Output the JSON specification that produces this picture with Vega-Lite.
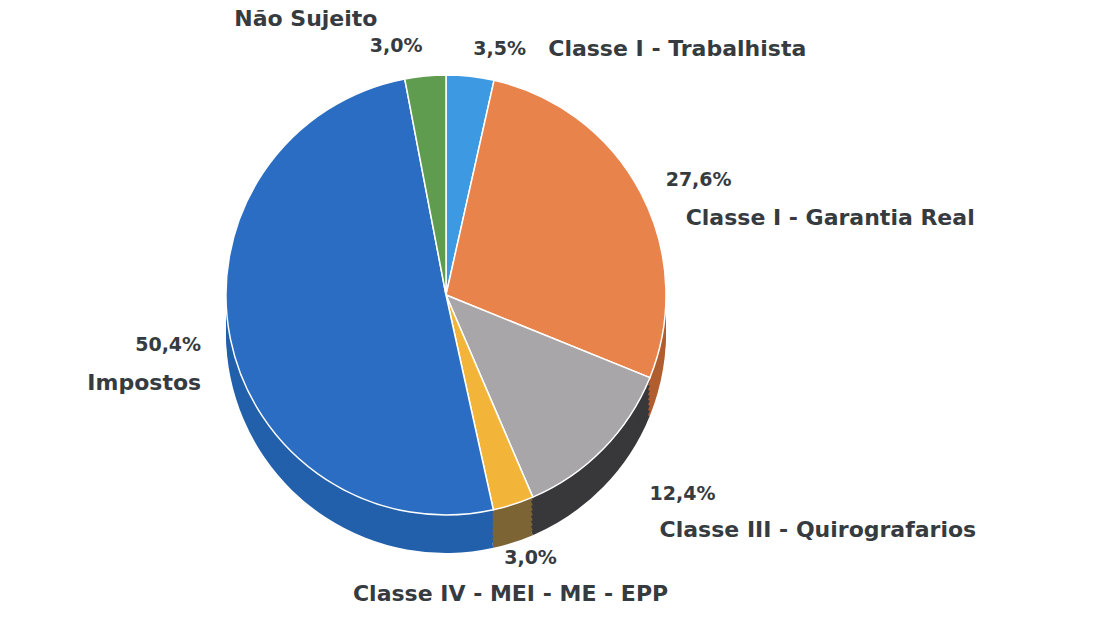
{
  "$schema": "https://vega.github.io/schema/vega-lite/v6.json",
  "autosize": "none",
  "width": 892,
  "height": 590,
  "padding": {"left": 0, "top": 0, "right": 211, "bottom": 41},
  "background": "white",
  "config": {"view": {"stroke": null}, "text": {"font": "DejaVu Sans", "fontWeight": "bold", "color": "#363b40"}},
  "data": {"values": [
    {"k": 1, "cat": "Classe I - Trabalhista", "v": 3.5, "pct": "3,5%"},
    {"k": 2, "cat": "Classe I - Garantia Real", "v": 27.6, "pct": "27,6%"},
    {"k": 3, "cat": "Classe III - Quirografarios", "v": 12.4, "pct": "12,4%"},
    {"k": 4, "cat": "Classe IV - MEI - ME - EPP", "v": 3.0, "pct": "3,0%"},
    {"k": 5, "cat": "Impostos", "v": 50.4, "pct": "50,4%"},
    {"k": 6, "cat": "Não Sujeito", "v": 3.0, "pct": "3,0%"}
  ]},
  "resolve": {"scale": {"color": "independent"}},
  "encoding": {
    "theta": {"field": "v", "type": "quantitative", "stack": true},
    "order": {"field": "k", "type": "quantitative"},
    "detail": {"field": "cat", "type": "nominal"}
  },
  "layer": [
    {"mark": {"type": "arc", "outerRadius": 220, "yOffset": 38}, "encoding": {"color": {"field": "cat", "type": "nominal", "legend": null, "scale": {"domain": ["Classe I - Trabalhista", "Classe I - Garantia Real", "Classe III - Quirografarios", "Classe IV - MEI - ME - EPP", "Impostos", "Não Sujeito"], "range": ["#2b78b8", "#b05e30", "#38383b", "#7d6434", "#2360ab", "#46763a"]}}}},
    {"mark": {"type": "arc", "outerRadius": 220, "yOffset": 33}, "encoding": {"color": {"field": "cat", "type": "nominal", "legend": null, "scale": {"domain": ["Classe I - Trabalhista", "Classe I - Garantia Real", "Classe III - Quirografarios", "Classe IV - MEI - ME - EPP", "Impostos", "Não Sujeito"], "range": ["#2b78b8", "#b05e30", "#38383b", "#7d6434", "#2360ab", "#46763a"]}}}},
    {"mark": {"type": "arc", "outerRadius": 220, "yOffset": 28}, "encoding": {"color": {"field": "cat", "type": "nominal", "legend": null, "scale": {"domain": ["Classe I - Trabalhista", "Classe I - Garantia Real", "Classe III - Quirografarios", "Classe IV - MEI - ME - EPP", "Impostos", "Não Sujeito"], "range": ["#2b78b8", "#b05e30", "#38383b", "#7d6434", "#2360ab", "#46763a"]}}}},
    {"mark": {"type": "arc", "outerRadius": 220, "yOffset": 23}, "encoding": {"color": {"field": "cat", "type": "nominal", "legend": null, "scale": {"domain": ["Classe I - Trabalhista", "Classe I - Garantia Real", "Classe III - Quirografarios", "Classe IV - MEI - ME - EPP", "Impostos", "Não Sujeito"], "range": ["#2b78b8", "#b05e30", "#38383b", "#7d6434", "#2360ab", "#46763a"]}}}},
    {"mark": {"type": "arc", "outerRadius": 220, "yOffset": 18}, "encoding": {"color": {"field": "cat", "type": "nominal", "legend": null, "scale": {"domain": ["Classe I - Trabalhista", "Classe I - Garantia Real", "Classe III - Quirografarios", "Classe IV - MEI - ME - EPP", "Impostos", "Não Sujeito"], "range": ["#2b78b8", "#b05e30", "#38383b", "#7d6434", "#2360ab", "#46763a"]}}}},
    {"mark": {"type": "arc", "outerRadius": 220, "yOffset": 13}, "encoding": {"color": {"field": "cat", "type": "nominal", "legend": null, "scale": {"domain": ["Classe I - Trabalhista", "Classe I - Garantia Real", "Classe III - Quirografarios", "Classe IV - MEI - ME - EPP", "Impostos", "Não Sujeito"], "range": ["#2b78b8", "#b05e30", "#38383b", "#7d6434", "#2360ab", "#46763a"]}}}},
    {"mark": {"type": "arc", "outerRadius": 220, "yOffset": 8}, "encoding": {"color": {"field": "cat", "type": "nominal", "legend": null, "scale": {"domain": ["Classe I - Trabalhista", "Classe I - Garantia Real", "Classe III - Quirografarios", "Classe IV - MEI - ME - EPP", "Impostos", "Não Sujeito"], "range": ["#2b78b8", "#b05e30", "#38383b", "#7d6434", "#2360ab", "#46763a"]}}}},
    {"mark": {"type": "arc", "outerRadius": 220, "yOffset": 3}, "encoding": {"color": {"field": "cat", "type": "nominal", "legend": null, "scale": {"domain": ["Classe I - Trabalhista", "Classe I - Garantia Real", "Classe III - Quirografarios", "Classe IV - MEI - ME - EPP", "Impostos", "Não Sujeito"], "range": ["#2b78b8", "#b05e30", "#38383b", "#7d6434", "#2360ab", "#46763a"]}}}},
    {"mark": {"type": "arc", "outerRadius": 220, "stroke": "#ffffff", "strokeWidth": 1.5}, "encoding": {"color": {"field": "cat", "type": "nominal", "legend": null, "scale": {"domain": ["Classe I - Trabalhista", "Classe I - Garantia Real", "Classe III - Quirografarios", "Classe IV - MEI - ME - EPP", "Impostos", "Não Sujeito"], "range": ["#3d9ae2", "#e8834c", "#a9a6a9", "#f2b53a", "#2a6dc2", "#5f9c4f"]}}}},
    {"transform": [{"calculate": "indexof(['Classe I - Trabalhista','Classe I - Garantia Real'], datum.cat) >= 0 ? datum.pct : ''", "as": "t"}],
     "mark": {"type": "text", "radius": 248, "align": "left", "baseline": "middle", "fontSize": 19},
     "encoding": {"text": {"field": "t", "type": "nominal"}}},
    {"transform": [{"calculate": "datum.cat == 'Classe I - Trabalhista' ? datum.cat : ''", "as": "t"}],
     "mark": {"type": "text", "radius": 248, "align": "left", "baseline": "middle", "fontSize": 22, "dx": 75},
     "encoding": {"text": {"field": "t", "type": "nominal"}}},
    {"transform": [{"calculate": "datum.cat == 'Classe I - Garantia Real' ? datum.cat : ''", "as": "t"}],
     "mark": {"type": "text", "radius": 248, "align": "left", "baseline": "middle", "fontSize": 22, "dy": 38, "dx": 20},
     "encoding": {"text": {"field": "t", "type": "nominal"}}},
    {"transform": [{"calculate": "datum.cat == 'Classe III - Quirografarios' ? datum.pct : ''", "as": "t"}],
     "mark": {"type": "text", "radius": 285, "align": "left", "baseline": "middle", "fontSize": 19},
     "encoding": {"text": {"field": "t", "type": "nominal"}}},
    {"transform": [{"calculate": "datum.cat == 'Classe III - Quirografarios' ? datum.cat : ''", "as": "t"}],
     "mark": {"type": "text", "radius": 285, "align": "left", "baseline": "middle", "fontSize": 22, "dy": 36, "dx": 10},
     "encoding": {"text": {"field": "t", "type": "nominal"}}},
    {"transform": [{"calculate": "datum.cat == 'Classe IV - MEI - ME - EPP' ? datum.pct : ''", "as": "t"}],
     "mark": {"type": "text", "radius": 276, "align": "center", "baseline": "middle", "fontSize": 19},
     "encoding": {"text": {"field": "t", "type": "nominal"}}},
    {"transform": [{"calculate": "datum.cat == 'Classe IV - MEI - ME - EPP' ? datum.cat : ''", "as": "t"}],
     "mark": {"type": "text", "radius": 276, "align": "center", "baseline": "middle", "fontSize": 22, "dy": 36, "dx": -20},
     "encoding": {"text": {"field": "t", "type": "nominal"}}},
    {"transform": [{"calculate": "indexof(['Impostos','Não Sujeito'], datum.cat) >= 0 ? datum.pct : ''", "as": "t"}],
     "mark": {"type": "text", "radius": 250, "align": "right", "baseline": "middle", "fontSize": 19},
     "encoding": {"text": {"field": "t", "type": "nominal"}}},
    {"transform": [{"calculate": "datum.cat == 'Impostos' ? datum.cat : ''", "as": "t"}],
     "mark": {"type": "text", "radius": 250, "align": "right", "baseline": "middle", "fontSize": 22, "dy": 38},
     "encoding": {"text": {"field": "t", "type": "nominal"}}},
    {"transform": [{"calculate": "datum.cat == 'Não Sujeito' ? datum.cat : ''", "as": "t"}],
     "mark": {"type": "text", "radius": 250, "align": "right", "baseline": "middle", "fontSize": 22, "dy": -27, "dx": -45},
     "encoding": {"text": {"field": "t", "type": "nominal"}}}
  ]
}
